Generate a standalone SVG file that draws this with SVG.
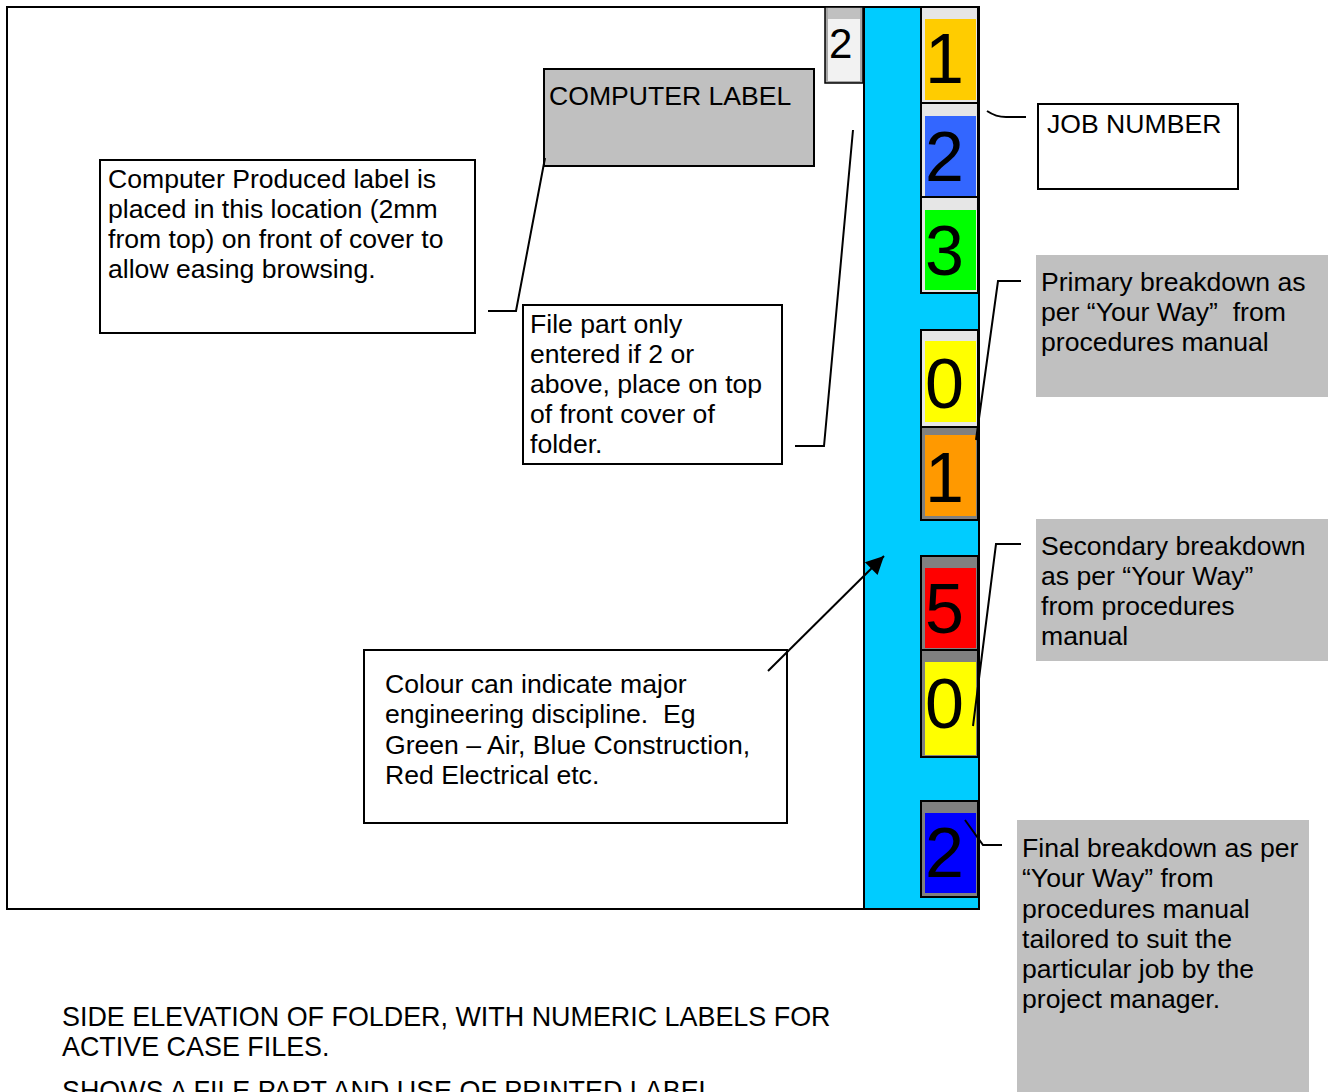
<svg xmlns="http://www.w3.org/2000/svg" width="1334" height="1092" viewBox="0 0 1334 1092">
<style>
text{font-family:"Liberation Sans",Arial,sans-serif;font-size:26.6px;fill:#000;white-space:pre}
.digit{font-size:70px}
.cap{font-size:26.9px}
.box{fill:#fff;stroke:#000;stroke-width:2}
.grey{fill:#C0C0C0}
.tab{stroke:#000;stroke-width:2}
.conn{fill:none;stroke:#000;stroke-width:2}
</style>
<defs>
<marker id="arr" viewBox="0 0 10 10" refX="10" refY="5" markerWidth="24" markerHeight="18" markerUnits="userSpaceOnUse" orient="auto">
<path d="M0,0 L10,5 L0,10 z" fill="#000"/>
</marker>
</defs>
<rect x="0" y="0" width="1334" height="1092" fill="#fff"/>
<g id="folder">
<rect x="7" y="7" width="972" height="902" fill="#fff" stroke="#000" stroke-width="2"/>
<rect x="864" y="7" width="115" height="902" fill="#00CCFF" stroke="#000" stroke-width="2"/>
</g>
<g id="file-part-label">
<rect x="825" y="7" width="38" height="76" fill="#A6A6A6" stroke="#000" stroke-width="1.5"/>
<rect x="828" y="8" width="32" height="11" fill="#C0C0C0"/>
<rect x="828" y="19" width="32" height="62" fill="#F2F2F2"/>
<text x="829" y="58" style="font-size:42px">2</text>
</g>
<g id="tab1"><rect class="tab" x="921" y="7" width="57" height="96" fill="#E6E6E6"/><rect x="925" y="19" width="51" height="81" fill="#FFCC00"/><text class="digit" x="925" y="83">1</text></g>
<g id="tab2"><rect class="tab" x="921" y="103" width="57" height="94" fill="#E6E6E6"/><rect x="925" y="116" width="51" height="80" fill="#3366FF"/><text class="digit" x="925" y="181">2</text></g>
<g id="tab3"><rect class="tab" x="921" y="197" width="57" height="96" fill="#E6E6E6"/><rect x="925" y="210" width="51" height="80" fill="#00FF00"/><text class="digit" x="925" y="275">3</text></g>
<g id="tab4"><rect class="tab" x="921" y="330" width="57" height="97" fill="#E6E6E6"/><rect x="925" y="341" width="51" height="81" fill="#FFFF00"/><text class="digit" x="925" y="408">0</text></g>
<g id="tab5"><rect class="tab" x="921" y="427" width="57" height="93" fill="#808080"/><rect x="925" y="435" width="51" height="81" fill="#FF9900"/><text class="digit" x="925" y="502">1</text></g>
<g id="tab6"><rect class="tab" x="921" y="556" width="57" height="94" fill="#808080"/><rect x="925" y="568" width="51" height="80" fill="#FF0000"/><text class="digit" x="925" y="633">5</text></g>
<g id="tab7"><rect class="tab" x="921" y="650" width="57" height="107" fill="#808080"/><rect x="925" y="662" width="51" height="93" fill="#FFFF00"/><text class="digit" x="925" y="728">0</text></g>
<g id="tab8"><rect class="tab" x="921" y="801" width="57" height="96" fill="#808080"/><rect x="925" y="813" width="51" height="80" fill="#0000FF"/><text class="digit" x="925" y="877">2</text></g>
<g id="computer-label">
<rect x="544" y="69" width="270" height="97" fill="#C0C0C0" stroke="#000" stroke-width="2"/>
<text x="549" y="105">COMPUTER LABEL</text>
</g>
<g id="computer-produced-note">
<rect class="box" x="100" y="160" width="375" height="173"/>
<text x="108" y="188">Computer Produced label is</text>
<text x="108" y="218">placed in this location (2mm</text>
<text x="108" y="248">from top) on front of cover to</text>
<text x="108" y="278">allow easing browsing.</text>
</g>
<g id="file-part-note">
<rect class="box" x="523" y="305" width="259" height="159"/>
<text x="530" y="333">File part only</text>
<text x="530" y="363">entered if 2 or</text>
<text x="530" y="393">above, place on top</text>
<text x="530" y="423">of front cover of</text>
<text x="530" y="453">folder.</text>
</g>
<g id="job-number">
<rect class="box" x="1038" y="104" width="200" height="85"/>
<text x="1047" y="133">JOB NUMBER</text>
</g>
<g id="primary-note">
<rect class="grey" x="1036" y="255" width="292" height="142"/>
<text x="1041" y="291">Primary breakdown as</text>
<text x="1041" y="321">per “Your Way”  from</text>
<text x="1041" y="351">procedures manual</text>
</g>
<g id="secondary-note">
<rect class="grey" x="1036" y="519" width="292" height="142"/>
<text x="1041" y="555">Secondary breakdown</text>
<text x="1041" y="585">as per “Your Way”</text>
<text x="1041" y="615">from procedures</text>
<text x="1041" y="645">manual</text>
</g>
<g id="final-note">
<rect class="grey" x="1017" y="820" width="292" height="272"/>
<text x="1022" y="857">Final breakdown as per</text>
<text x="1022" y="887">“Your Way” from</text>
<text x="1022" y="918">procedures manual</text>
<text x="1022" y="948">tailored to suit the</text>
<text x="1022" y="978">particular job by the</text>
<text x="1022" y="1008">project manager.</text>
</g>
<g id="colour-note">
<rect class="box" x="364" y="650" width="423" height="173"/>
<text x="385" y="693">Colour can indicate major</text>
<text x="385" y="723">engineering discipline.  Eg</text>
<text x="385" y="754">Green – Air, Blue Construction,</text>
<text x="385" y="784">Red Electrical etc.</text>
</g>
<g id="caption">
<text class="cap" x="62" y="1026">SIDE ELEVATION OF FOLDER, WITH NUMERIC LABELS FOR</text>
<text class="cap" x="62" y="1056">ACTIVE CASE FILES.</text>
<text class="cap" x="62" y="1100">SHOWS A FILE PART AND USE OF PRINTED LABEL</text>
</g>
<g id="connectors">
<polyline class="conn" points="488,311 516,311 545,158"/>
<polyline class="conn" points="795,446 824,446 853,130"/>
<path class="conn" d="M987,111 Q996,117 1006,117 L1026,117"/>
<polyline class="conn" points="1021,281 998,281 976,440"/>
<polyline class="conn" points="1021,544 996,544 973,726"/>
<polyline class="conn" points="965,820 983,845 1002,845"/>
<line class="conn" x1="768" y1="671" x2="884" y2="556" marker-end="url(#arr)"/>
</g>
</svg>
